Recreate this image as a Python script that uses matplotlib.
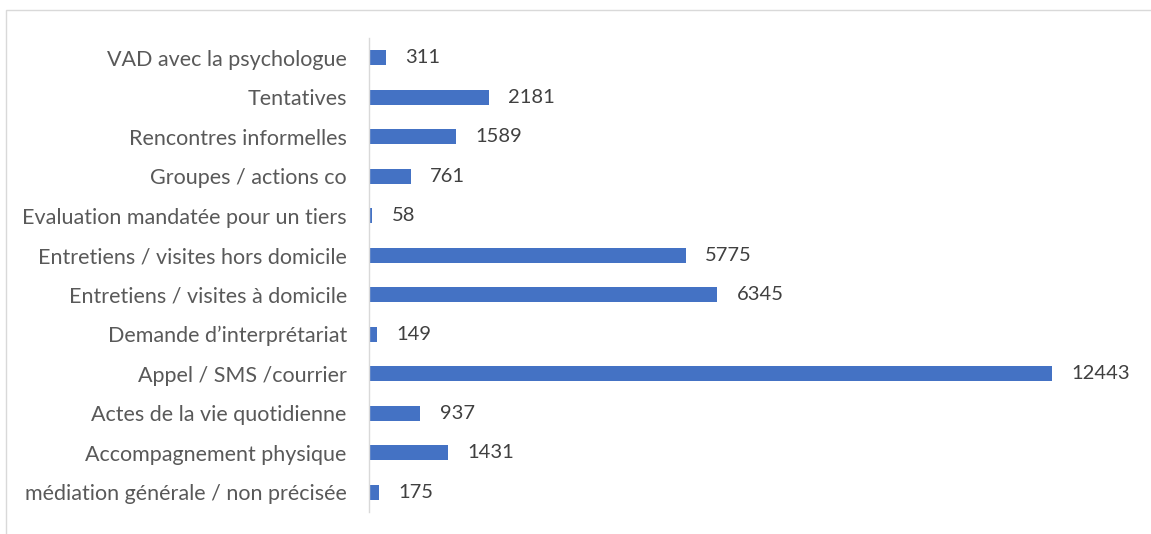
import matplotlib
matplotlib.use("Agg")
import matplotlib.pyplot as plt
from matplotlib.patches import Rectangle

categories = [
    "VAD avec la psychologue",
    "Tentatives",
    "Rencontres informelles",
    "Groupes / actions co",
    "Evaluation mandatée pour un tiers",
    "Entretiens / visites hors domicile",
    "Entretiens / visites à domicile",
    "Demande d\u2019interprétariat",
    "Appel / SMS /courrier",
    "Actes de la vie quotidienne",
    "Accompagnement physique",
    "médiation générale / non précisée",
]
values = [311, 2181, 1589, 761, 58, 5775, 6345, 149, 12443, 937, 1431, 175]

W, H = 1151, 534
fig = plt.figure(figsize=(W / 100, H / 100), dpi=100)
plt.rcParams["font.family"] = ["Lato", "DejaVu Sans"]

# light frame around the chart area
fig.patches.append(Rectangle((6 / W, -0.05), 1.1, 1 - 10 / H + 0.05,
                             transform=fig.transFigure, fill=False,
                             edgecolor="#d9d9d9", linewidth=1.0))

ax = fig.add_axes([369 / W, 1 - 512 / H, (1137 - 369) / W, (512 - 38) / H])
pos = list(range(len(categories)))
ax.barh(pos, values, height=0.38, color="#4472c4")
ax.set_ylim(len(categories) - 0.5, -0.5)
ax.set_xlim(0, 14000)
ax.set_yticks(pos)
ax.set_yticklabels(categories, fontsize=15.5, color="#595959")
ax.tick_params(axis="y", length=0, pad=16)
ax.set_xticks([])
for s in ["top", "right", "bottom"]:
    ax.spines[s].set_visible(False)
ax.spines["left"].set_color("#d9d9d9")
ax.spines["left"].set_linewidth(1.0)

for p, v in zip(pos, values):
    ax.annotate(str(v), (v, p), xytext=(14, 0), textcoords="offset points",
                va="center", ha="left", fontsize=14.5, color="#404040")

fig.savefig("out.png", dpi=100)
